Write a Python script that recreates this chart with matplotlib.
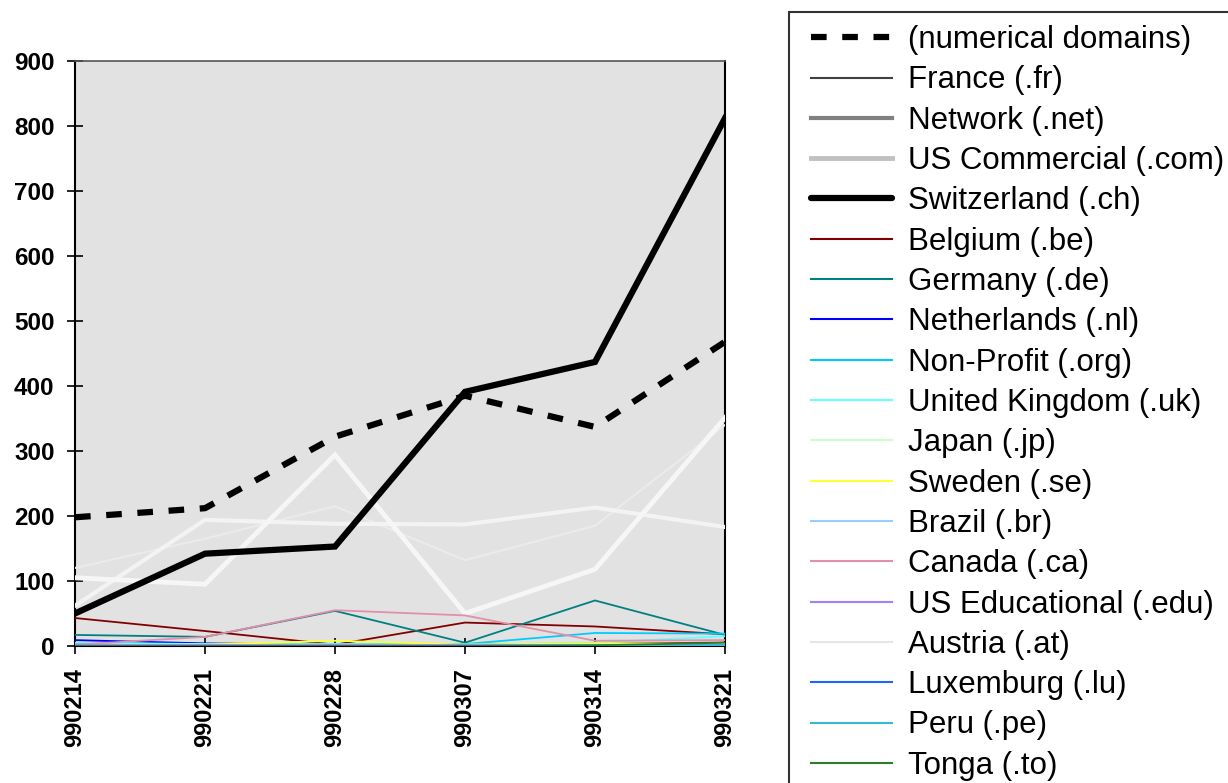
import numpy as np
import matplotlib
matplotlib.use("Agg")
import matplotlib.pyplot as plt
from matplotlib.lines import Line2D
from matplotlib.legend_handler import HandlerLine2D

plt.rcParams['font.family'] = ['Liberation Sans', 'DejaVu Sans']

# -------------------------
# Data
# -------------------------
weeks = ["990214", "990221", "990228", "990307", "990314", "990321"]

numerical = [198, 212, 322, 385, 337, 468]
france = [120, 165, 215, 132, 185, 340]
network = [62, 194, 188, 187, 213, 183]
us_commercial = [105, 95, 294, 50, 118, 351]
switzerland = [50, 142, 153, 391, 437, 812]
belgium = [43, 23, 2, 36, 30, 18]
germany = [17, 14, 54, 5, 70, 17]
netherlands = [9, 4, 2, 1, 1, 2]
non_profit = [3, 2, 2, 3, 20, 19]
united_kingdom = [5, 3, 3, 2, 5, 15]
japan = [1, 1, 1, 1, 2, 3]
sweden = [1, 2, 8, 2, 4, 3]
brazil = [1, 1, 1, 1, 1, 2]
canada = [2, 14, 55, 47, 8, 9]
us_educational = [1, 1, 1, 1, 1, 1]
austria = [0, 0, 0, 0, 0, 1]
luxemburg = [0, 0, 0, 0, 0, 1]
peru = [0, 0, 0, 0, 1, 1]
tonga = [0, 0, 0, 0, 1, 5]
other = [1, 1, 1, 1, 2, 4]

labels = [
    "(numerical domains)", "France (.fr)", "Network (.net)", "US Commercial (.com)",
    "Switzerland (.ch)", "Belgium (.be)", "Germany (.de)", "Netherlands (.nl)",
    "Non-Profit (.org)", "United Kingdom (.uk)", "Japan (.jp)", "Sweden (.se)",
    "Brazil (.br)", "Canada (.ca)", "US Educational (.edu)", "Austria (.at)",
    "Luxemburg (.lu)", "Peru (.pe)", "Tonga (.to)",
]
series = [
    numerical, france, network, us_commercial, switzerland, belgium, germany,
    netherlands, non_profit, united_kingdom, japan, sweden, brazil, canada,
    us_educational, austria, luxemburg, peru, tonga,
]

# line colours on the plot / in the legend
plot_colors = [
    "black", "#ebebeb", "#f3f3f3", "#f6f6f6", "black", "#800000", "#008080",
    "#0000ff", "#00ccff", "#66ffff", "#ccffcc", "#ffff33", "#99ccff", "#e090a8",
    "#a080ff", "#e6e6e6", "#1a66ff", "#33bbd0", "#2e7d2e",
]
legend_colors = list(plot_colors)
legend_colors[1] = "#404040"
legend_colors[2] = "#808080"
legend_colors[3] = "#c0c0c0"
widths = [4.5, 1.5, 3.0, 3.5, 4.5] + [1.3] * 14

# -------------------------
# Plot
# -------------------------
fig = plt.figure(figsize=(12.28, 7.83), dpi=100)
ax = fig.add_axes([0.0611, 0.175, 0.5293, 0.7471])
ax.set_facecolor("#e2e2e2")

x = np.arange(len(weeks))
ax.plot(x, other, color="#6b2a0e", lw=2.5, label="_other", zorder=2)
for i, (vals, lab) in enumerate(zip(series, labels)):
    style = (0, (2.5, 2.5)) if i == 0 else "-"
    z = 5 if i in (0, 4) else 3
    ax.plot(x, vals, color=plot_colors[i], lw=widths[i], ls=style,
            label=lab, zorder=z, solid_joinstyle="miter")

ax.set_xlim(0, len(weeks) - 1)
ax.set_ylim(0, 900)
ax.set_yticks(range(0, 901, 100))
ax.set_xticks(x)
ax.set_xticklabels(weeks, rotation=90, fontweight="bold", fontsize=17)
for t in ax.get_yticklabels():
    t.set_fontweight("bold")
    t.set_fontsize(17.5)
ax.tick_params(axis="both", direction="inout", length=11.5, width=1.2, color="black")
ax.tick_params(axis="y", pad=9)
ax.tick_params(axis="x", pad=10)
for side in ["left", "bottom", "right"]:
    ax.spines[side].set_color("black")
    ax.spines[side].set_linewidth(1.5)
ax.spines["top"].set_color("#555555")
ax.spines["top"].set_linewidth(1.2)

handles, labs = ax.get_legend_handles_labels()
leg = fig.legend(handles, labs, loc="upper left", bbox_to_anchor=(0.6425, 0.985),
                 fontsize=22.5, frameon=True, fancybox=False, edgecolor="black",
                 handlelength=2.88, handletextpad=0.5, labelspacing=0.33,
                 borderpad=0.43, borderaxespad=0,
                 handler_map={Line2D: HandlerLine2D(xpad=0.26)})
leg.get_frame().set_linewidth(1.5)
for i, (line, c, w) in enumerate(zip(leg.get_lines(), legend_colors, widths)):
    line.set_color(c)
    line.set_linewidth(w if w > 1.5 else 1.5)
    if i == 4:
        line.set_solid_capstyle("round")

plt.savefig("out.png", dpi=100)
